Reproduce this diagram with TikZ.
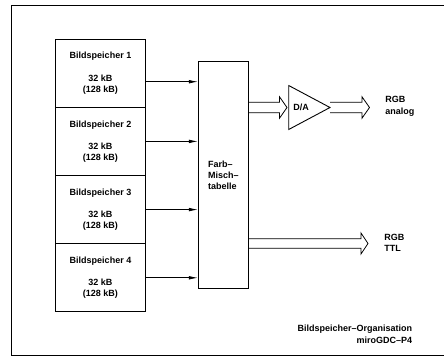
\documentclass[tikz,border=0pt]{standalone}
\usepackage{fontspec}
\setmainfont{Liberation Sans}
\usetikzlibrary{arrows.meta}
\begin{document}
\begin{tikzpicture}[x=1pt,y=-1pt,
  line width=0.9pt,
  txt/.style={font=\fontsize{9}{11.5}\selectfont\bfseries, inner sep=0pt},
  membox/.style={draw, minimum width=90.5pt, minimum height=68.2pt, inner sep=0pt, align=center, font=\fontsize{9}{11}\selectfont\bfseries},
  mixbox/.style={draw, minimum width=50pt, minimum height=227pt, inner sep=0pt, align=left, font=\fontsize{9}{11.3}\selectfont\bfseries},
  feed/.style={-{Latex[length=9pt,width=3.6pt]}, line width=0.7pt},
  hollow/.style={draw, line width=0.8pt, line join=miter}
]
\useasboundingbox (0,0) rectangle (444,356);
\draw (11,5) rectangle (470,355);

\node[membox] (m1) at (100.5,73.2) {Bildspeicher 1\\[11.3pt]32 kB\\(128 kB)};
\node[membox] (m2) at (100.5,141.4) {Bildspeicher 2\\[11.3pt]32 kB\\(128 kB)};
\node[membox] (m3) at (100.5,209.6) {Bildspeicher 3\\[11.3pt]32 kB\\(128 kB)};
\node[membox] (m4) at (100.5,277.8) {Bildspeicher 4\\[11.3pt]32 kB\\(128 kB)};

\node[mixbox] (f) at (223.3,175.2) {Farb–\\Misch–\\tabelle};

\coordinate (a1) at ([yshift=-8.5pt]m1.east);
\draw[feed] (a1) -- (a1 -| f.west);
\draw[feed] (m2.east) -- (m2.east -| f.west);
\draw[feed] (m3.east) -- (m3.east -| f.west);
\draw[feed] (m4.east) -- (m4.east -| f.west);

% D/A triangle
\coordinate (dat) at (288.7,85.5);
\coordinate (dab) at (288.7,129.5);
\coordinate (datip) at (330,107.5);
\draw (dat) -- (datip) -- (dab) -- cycle;
\node[txt] (da) at (301,107.5) {D/A};

% hollow arrow: table -> D/A
\draw[hollow] (f.east |- 0,102.3) -- (279.5,102.3) -- (279.5,96.8) -- (287,107.5) -- (279.5,118.2) -- (279.5,112.7) -- (f.east |- 0,112.7);
% hollow arrow: D/A -> RGB analog
\draw[hollow] (datip |- 0,102.3) -- (362,102.3) -- (362,96.8) -- (369.5,107.5) -- (362,118.2) -- (362,112.7) -- (datip |- 0,112.7);
% hollow arrow: table -> RGB TTL
\draw[hollow] (f.east |- 0,238.8) -- (361,238.8) -- (361,233) -- (368,243.5) -- (361,254) -- (361,248.2) -- (f.east |- 0,248.2);

\node[txt, anchor=west, align=left] (rgba) at (385,106.5) {RGB\\analog};
\node[txt, anchor=west, align=left] (rgbt) at (384,243) {RGB\\TTL};

\node[txt, anchor=east, align=right] (cap) at (412.5,334.2) {Bildspeicher–Organisation\\miroGDC–P4};
\end{tikzpicture}
\end{document}
